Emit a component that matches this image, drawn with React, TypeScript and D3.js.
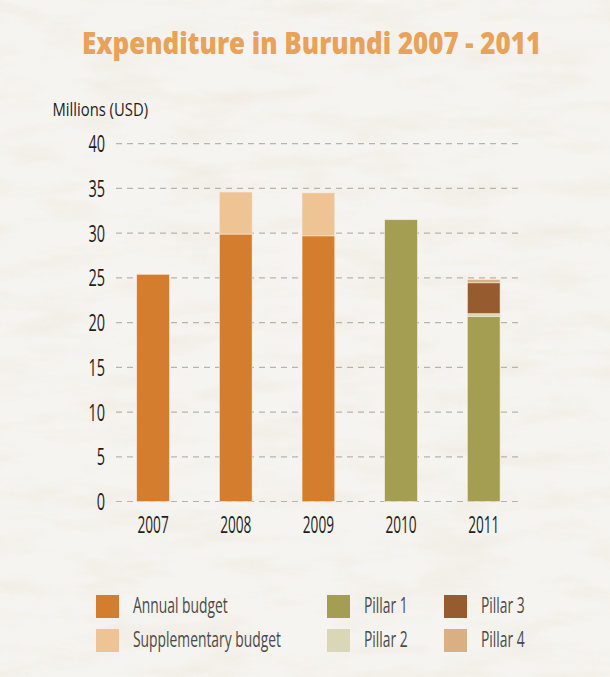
import React from "react";
import * as d3 from "d3";

const years = ["2007", "2008", "2009", "2010", "2011"];
const annualBudget = [25.4, 29.9, 29.7, 0, 0];
const supplementaryBudget = [0, 4.7, 4.8, 0, 0];
const pillar1 = [0, 0, 0, 31.5, 20.7];
const pillar2 = [0, 0, 0, 0, 0.3];
const pillar3 = [0, 0, 0, 0, 3.45];
const pillar4 = [0, 0, 0, 0, 0.35];
const yTicks = [0, 5, 10, 15, 20, 25, 30, 35, 40];

const seriesNames = ["Annual budget", "Supplementary budget", "Pillar 1", "Pillar 2", "Pillar 3", "Pillar 4"];
const seriesColors = ["#D57D2E", "#EEC495", "#A39E52", "#D9D7B6", "#975B30", "#D8B084"];

const W = 610;
const H = 677;
const FONT = "'Open Sans', 'Noto Sans', 'DejaVu Sans', sans-serif";

function CText(props: {
  x: number;
  y: number;
  size: number;
  sx: number;
  anchor?: string;
  fill: string;
  weight?: string;
  children: React.ReactNode;
}) {
  const { x, y, size, sx, anchor = "start", fill, weight = "normal", children } = props;
  return (
    <text
      transform={`translate(${x},${y}) scale(${sx},1)`}
      textAnchor={anchor}
      fontSize={size}
      fill={fill}
      fontWeight={weight}
    >
      {children}
    </text>
  );
}

export default function App() {
  const y = d3.scaleLinear().domain([0, 40]).range([501.5, 143.7]);
  const x = d3.scaleBand().domain(years).range([95.4, 541.4]).paddingInner(0.604).paddingOuter(0.5);

  const rows = years.map((yr, i) => ({
    year: yr,
    a: annualBudget[i],
    s: supplementaryBudget[i],
    p1: pillar1[i],
    p2: pillar2[i],
    p3: pillar3[i],
    p4: pillar4[i],
  }));
  const keys = ["a", "s", "p1", "p2", "p3", "p4"];
  const stacked = d3.stack<any>().keys(keys)(rows);

  const legendItems = [
    { i: 0, x: 96, y: 595 },
    { i: 1, x: 96, y: 629 },
    { i: 2, x: 327, y: 595 },
    { i: 3, x: 327, y: 629 },
    { i: 4, x: 444, y: 595 },
    { i: 5, x: 444, y: 629 },
  ];

  return (
    <svg width={W} height={H} style={{ position: "absolute", left: 0, top: 0 }} fontFamily={FONT}>
      <defs>
        <filter id="paper" x="0" y="0" width="100%" height="100%">
          <feTurbulence type="fractalNoise" baseFrequency="0.012 0.045" numOctaves="5" seed="7" result="noise" />
          <feColorMatrix
            in="noise"
            type="matrix"
            values="0 0 0 0 0.85  0 0 0 0 0.81  0 0 0 0 0.74  0 0 0 -1.8 1.0"
          />
        </filter>
      </defs>
      <rect x={0} y={0} width={W} height={H} fill="#F6F4F0" />
      <rect x={0} y={0} width={W} height={H} filter="url(#paper)" opacity={0.8} />

      <CText x={311.5} y={53.5} size={30.5} sx={0.85} weight="800" anchor="middle" fill="#E8A25A">
        Expenditure in Burundi 2007 - 2011
      </CText>

      <CText x={52.5} y={116} size={18.5} sx={0.8} fill="#1E1E1E">
        Millions (USD)
      </CText>

      {yTicks.map((t) => (
        <g key={t}>
          <line x1={116} x2={518} y1={y(t)} y2={y(t)} stroke="#B7B4AF" strokeWidth={1.2} strokeDasharray="6 5" />
          <CText x={105} y={y(t) + 8.5} size={23} sx={0.63} anchor="end" fill="#1E1E1E">
            {t}
          </CText>
        </g>
      ))}

      {stacked.map((layer, li) => (
        <g key={keys[li]} fill={seriesColors[li]}>
          {layer.map((d, i) => {
            const h = y(d[0]) - y(d[1]);
            if (h <= 0) return null;
            return (
              <rect
                key={i}
                x={x(years[i])!}
                width={x.bandwidth()}
                y={y(d[1])}
                height={h}
                stroke="#F4EBDD"
                strokeWidth={0.6}
              />
            );
          })}
        </g>
      ))}

      {years.map((yr) => (
        <CText key={yr} x={x(yr)! + x.bandwidth() / 2} y={533.3} size={23.5} sx={0.58} anchor="middle" fill="#1E1E1E">
          {yr}
        </CText>
      ))}

      {legendItems.map((l) => (
        <g key={l.i}>
          <rect x={l.x} y={l.y} width={23} height={23} fill={seriesColors[l.i]} />
          <CText x={l.x + 37} y={l.y + 18.3} size={21} sx={0.66} fill="#4A4A4A">
            {seriesNames[l.i]}
          </CText>
        </g>
      ))}
    </svg>
  );
}
